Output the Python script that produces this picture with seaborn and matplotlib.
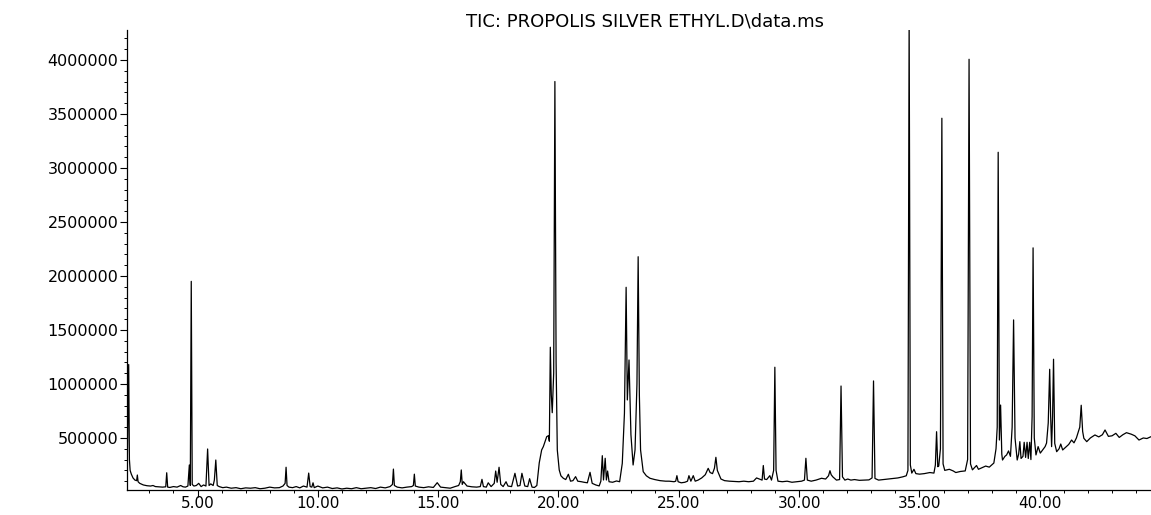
import numpy as np
import pandas as pd
import matplotlib
matplotlib.use("Agg")
import matplotlib.pyplot as plt
from matplotlib.ticker import MultipleLocator, FuncFormatter
import seaborn as sns

# ---- data (retention time in min, abundance in thousands) ----
t_seg1 = [2.08, 2.11, 2.14, 2.17, 2.20, 2.25, 2.32, 2.40, 2.47, 2.50,
          2.53, 2.60, 2.75, 2.90, 3.05, 3.15, 3.25, 3.40, 3.55, 3.68,
          3.72, 3.76, 3.85, 4.00, 4.15, 4.30, 4.40, 4.50, 4.60, 4.66,
          4.70, 4.74, 4.78, 4.85, 4.95]
y_seg1 = [250, 700, 1180, 300, 200, 165, 130, 110, 105, 157,
          95, 80, 65, 58, 55, 60, 50, 48, 45, 48,
          178, 45, 42, 50, 45, 60, 48, 45, 55, 250,
          60, 1950, 70, 55, 60]

t_seg2 = [5.05, 5.15, 5.25, 5.35, 5.42, 5.48, 5.55, 5.65, 5.70, 5.76,
          5.82, 5.90, 6.05, 6.20, 6.40, 6.60, 6.80, 7.00, 7.20, 7.40,
          7.60, 7.80, 8.00, 8.20, 8.40, 8.55, 8.64, 8.68, 8.72, 8.80,
          8.95, 9.10, 9.25, 9.40, 9.55, 9.62, 9.68, 9.75, 9.80, 9.85,
          10.0, 10.2, 10.4, 10.6, 10.8, 11.0, 11.2, 11.4, 11.6, 11.8,
          12.0, 12.2, 12.4, 12.6, 12.8, 13.0, 13.10, 13.14, 13.18, 13.3]
y_seg2 = [80, 50, 65, 55, 398, 60, 75, 60, 110, 296,
          60, 50, 40, 45, 35, 40, 30, 38, 35, 40,
          30, 35, 45, 38, 40, 55, 80, 229, 60, 45,
          40, 50, 38, 55, 45, 175, 50, 45, 85, 40,
          55, 38, 45, 32, 38, 28, 35, 30, 40, 30,
          35, 40, 32, 45, 38, 50, 70, 212, 60, 45]

t_seg3 = [13.5, 13.7, 13.9, 13.97, 14.01, 14.05, 14.2, 14.4, 14.6, 14.8,
          14.96, 15.1, 15.3, 15.5, 15.7, 15.85, 15.92, 15.96, 16.0, 16.05,
          16.2, 16.4, 16.6, 16.75, 16.82, 16.88, 17.0, 17.08, 17.2, 17.33,
          17.39, 17.45, 17.53, 17.6, 17.7, 17.82, 17.9, 18.05, 18.19, 18.3,
          18.4, 18.48, 18.6, 18.72, 18.8, 18.9, 19.0, 19.1]
y_seg3 = [38, 45, 50, 60, 165, 55, 45, 40, 48, 42,
          86, 45, 40, 35, 50, 60, 95, 204, 70, 95,
          55, 48, 45, 50, 117, 50, 45, 85, 50, 80,
          194, 90, 229, 70, 50, 95, 55, 50, 173, 55,
          60, 173, 55, 50, 123, 45, 42, 60]

t_seg4 = [19.2, 19.3, 19.37, 19.44, 19.51, 19.58, 19.62, 19.66, 19.70, 19.74,
          19.80, 19.85, 19.90, 19.95, 20.03, 20.1, 20.2, 20.3, 20.41, 20.5,
          20.6, 20.71, 20.8, 20.95, 21.06, 21.2, 21.31, 21.4, 21.55, 21.69,
          21.76, 21.82, 21.87, 21.94, 21.99, 22.04, 22.1, 22.25, 22.41, 22.54,
          22.65, 22.74, 22.81, 22.86, 22.93, 23.01, 23.1, 23.18, 23.26, 23.31,
          23.36, 23.41, 23.52, 23.65, 23.8, 24.0, 24.22, 24.45]
y_seg4 = [270, 389, 420, 466, 512, 521, 470, 1340, 900, 734,
          1100, 3800, 1200, 389, 204, 150, 127, 115, 164, 100,
          105, 142, 100, 95, 90, 85, 182, 80, 65, 56,
          100, 336, 111, 312, 111, 194, 95, 90, 102, 95,
          265, 729, 1895, 852, 1222, 530, 250, 389, 1000, 2178,
          900, 389, 188, 150, 127, 115, 105, 100]

t_seg5 = [24.6, 24.8, 24.87, 24.92, 24.97, 25.1, 25.25, 25.36, 25.42, 25.5,
          25.6, 25.68, 25.8, 25.95, 26.1, 26.22, 26.3, 26.4, 26.48, 26.54,
          26.6, 26.75, 26.9, 27.1, 27.3, 27.5, 27.7, 27.9, 28.1, 28.23,
          28.35, 28.46, 28.51, 28.56, 28.65, 28.78, 28.85, 28.94, 28.99, 29.04,
          29.12, 29.3, 29.5, 29.7, 29.9, 30.1, 30.22, 30.28, 30.34, 30.5,
          30.7, 30.93, 31.1, 31.22, 31.28, 31.33, 31.4, 31.55, 31.68, 31.74,
          31.80, 31.9, 32.02, 32.15, 32.3, 32.5, 32.7, 32.9, 33.03, 33.09,
          33.15, 33.3, 33.5, 33.7, 33.9, 34.1, 34.3, 34.45]
y_seg5 = [100, 95, 100, 151, 95, 85, 90, 100, 151, 100,
          151, 100, 110, 130, 160, 219, 180, 170, 220, 321,
          200, 120, 105, 100, 98, 95, 100, 95, 100, 130,
          120, 110, 245, 120, 115, 151, 110, 200, 1155, 200,
          100, 95, 100, 90, 95, 100, 110, 312, 110, 100,
          110, 127, 120, 150, 197, 160, 140, 110, 115, 981,
          140, 110, 120, 110, 115, 108, 110, 112, 130, 1028,
          125, 110, 115, 120, 125, 130, 140, 150]

t_seg6 = [34.52, 34.57, 34.62, 34.68, 34.77, 34.85, 35.0, 35.2, 35.43, 35.6,
          35.66, 35.71, 35.76, 35.80, 35.87, 35.93, 35.98, 36.05, 36.24, 36.4,
          36.51, 36.7, 36.9, 37.0, 37.06, 37.12, 37.2, 37.37, 37.45, 37.6,
          37.75, 37.9, 38.09, 38.18, 38.23, 38.27, 38.32, 38.37, 38.42, 38.45,
          38.55, 38.62, 38.7, 38.78, 38.85, 38.91, 38.97, 39.06, 39.12, 39.17,
          39.22, 39.3, 39.35, 39.41, 39.47, 39.52, 39.58, 39.63, 39.68, 39.72,
          39.77, 39.84, 39.93, 40.02, 40.14, 40.22, 40.28, 40.35, 40.41, 40.45,
          40.49, 40.53, 40.57, 40.62, 40.7, 40.8, 40.87, 40.95, 41.1, 41.2,
          41.32, 41.42, 41.52, 41.6, 41.66, 41.72, 41.78, 41.83, 41.95, 42.1,
          42.29, 42.45, 42.6, 42.71, 42.85, 43.0, 43.16, 43.3, 43.45, 43.6,
          43.8, 43.95, 44.12, 44.3, 44.45, 44.62]
y_seg6 = [200, 4400, 250, 175, 210, 170, 165, 170, 180, 175,
          250, 558, 234, 240, 400, 3460, 260, 200, 210, 195,
          180, 190, 195, 300, 4006, 260, 205, 245, 210, 225,
          240, 230, 268, 400, 600, 3145, 481, 805, 350, 296,
          330, 343, 380, 330, 600, 1593, 500, 296, 350, 466,
          310, 330, 460, 320, 460, 310, 460, 300, 700, 2260,
          500, 343, 420, 360, 395, 420, 453, 639, 1136, 700,
          420, 700, 1229, 450, 373, 400, 444, 389, 420, 440,
          481, 455, 500, 558, 600, 803, 560, 497, 466, 500,
          528, 510, 530, 574, 515, 520, 543, 505, 530, 549,
          535, 520, 481, 500, 495, 512]

title_text = "TIC: PROPOLIS SILVER ETHYL.D\\data.ms"

# ---- build table ----
times = t_seg1 + t_seg2 + t_seg3 + t_seg4 + t_seg5 + t_seg6
abund = y_seg1 + y_seg2 + y_seg3 + y_seg4 + y_seg5 + y_seg6
df = pd.DataFrame({"time": times, "abundance": np.array(abund, dtype=float) * 1000.0})

sns.set_style("ticks")
plt.rcParams["font.family"] = ["DejaVu Sans"]

W, H = 1151, 515
fig = plt.figure(figsize=(W / 100, H / 100), dpi=100)
ax = fig.add_axes([127 / W, (H - 489.5) / H, 1 - 127 / W, (489.5 - 30) / H])

sns.lineplot(data=df, x="time", y="abundance", ax=ax, color="black",
             linewidth=0.9, estimator=None, sort=False)

ax.set_xlim(2.07, 44.62)
ax.set_ylim(23000, 4277000)
ax.set_xlabel("")
ax.set_ylabel("")

ax.xaxis.set_major_locator(MultipleLocator(5))
ax.xaxis.set_minor_locator(MultipleLocator(1))
ax.yaxis.set_major_locator(MultipleLocator(500000))
ax.yaxis.set_minor_locator(MultipleLocator(100000))
ax.xaxis.set_major_formatter(FuncFormatter(lambda v, p: f"{v:.2f}"))
ax.yaxis.set_major_formatter(FuncFormatter(lambda v, p: f"{v:.0f}"))

ax.tick_params(axis="both", which="major", length=4.7, width=0.8, color="black",
               labelcolor="black")
ax.tick_params(axis="both", which="minor", length=2.5, width=0.7, color="black")
ax.tick_params(axis="y", which="major", pad=1.5, labelsize=11.5)
ax.tick_params(axis="x", which="major", pad=0.3, labelsize=11)

for side in ["top", "right"]:
    ax.spines[side].set_visible(False)
for side in ["left", "bottom"]:
    ax.spines[side].set_color("black")
    ax.spines[side].set_linewidth(0.9)

fig.text(645 / W, 1 - 22 / H, title_text, ha="center", va="center",
         fontsize=13, color="black")

fig.savefig("out.png", dpi=100, facecolor="white")
